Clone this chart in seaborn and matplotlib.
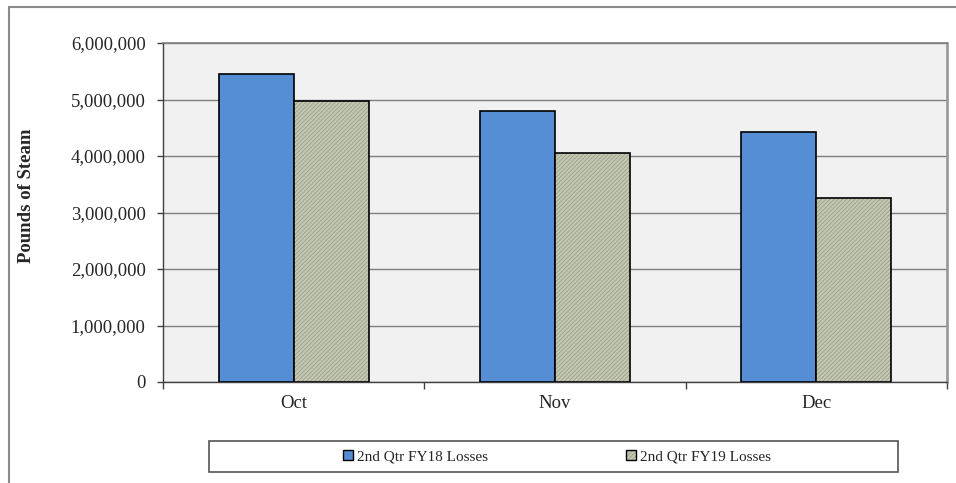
import matplotlib
matplotlib.use("Agg")
import matplotlib.pyplot as plt
from matplotlib.patches import Rectangle
from matplotlib.lines import Line2D
from matplotlib.colors import to_rgba
from matplotlib.ticker import FuncFormatter, FixedLocator
import seaborn as sns
import pandas as pd

# Steam losses by month, second quarter
months = ["Oct", "Nov", "Dec"]
series_names = ["2nd Qtr FY18 Losses", "2nd Qtr FY19 Losses"]
fy18_losses = [5455000, 4800000, 4420000]
fy19_losses = [4970000, 4055000, 3265000]
y_ticks = [0, 1000000, 2000000, 3000000, 4000000, 5000000, 6000000]

df = pd.DataFrame({
    "Month": months * 2,
    "Pounds": fy18_losses + fy19_losses,
    "Series": [series_names[0]] * 3 + [series_names[1]] * 3,
})

sns.set_theme(style="white")
plt.rcParams["font.family"] = ["Liberation Serif", "DejaVu Serif"]
plt.rcParams["hatch.linewidth"] = 0.6

blue = "#558ed5"
olive = "#c5c9b3"
hatch_col = "#979d87"
fine_hatch = "/" * 8


def texture(patch):
    """Fine olive diagonal texture with a light hatch colour."""
    patch.set_hatch(fine_hatch)
    if hasattr(patch, "set_hatchcolor"):
        patch.set_hatchcolor(hatch_col)
    patch._hatch_color = to_rgba(hatch_col)
    patch.stale = True


fig = plt.figure(figsize=(9.56, 4.83), dpi=100)
fig.patch.set_facecolor("white")
ax = fig.add_axes([163 / 956, 1 - 382 / 483, (947 - 163) / 956, (382 - 43) / 483])
ax.set_facecolor("#f1f1f1")

sns.barplot(data=df, x="Month", y="Pounds", hue="Series", order=months,
            hue_order=series_names, palette=[blue, olive], width=0.575,
            edgecolor="black", linewidth=1.2, saturation=1, ax=ax,
            legend=False, zorder=3)

for patch in ax.patches[3:6]:
    texture(patch)

ax.set_ylim(0, 6000000)
ax.set_xlim(-0.5, 2.5)
ax.yaxis.set_major_locator(FixedLocator(y_ticks))
ax.yaxis.set_major_formatter(FuncFormatter(lambda v, p: f"{v:,.0f}"))
ax.yaxis.grid(True, color="#7f7f7f", linewidth=1.0, zorder=0)
ax.set_axisbelow(True)

ax.set_xlabel("")
ax.set_ylabel("Pounds of Steam", fontsize=13.5, fontweight="bold", labelpad=12)
ax.yaxis.set_label_coords(-0.163, 0.55)

ax.tick_params(axis="y", which="major", direction="out", length=4.5, width=1,
               color="#404040", pad=8, labelsize=13.5, left=True)
ax.tick_params(axis="x", which="major", length=0, pad=9, labelsize=13.5)
ax.set_xticks([-0.5, 0.5, 1.5, 2.5], minor=True)
ax.tick_params(axis="x", which="minor", direction="out", length=5, width=1,
               color="#404040", bottom=True)

for side in ["left", "bottom"]:
    ax.spines[side].set_color("#404040")
    ax.spines[side].set_linewidth(1.0)
ax.spines["top"].set_color("#7f7f7f")
ax.spines["top"].set_linewidth(1.2)
ax.spines["right"].set_color("#9a9a9a")
ax.spines["right"].set_linewidth(2.0)
for side in ax.spines:
    ax.spines[side].set_visible(True)

# legend with its own box
lx0, lx1, ly0, ly1 = 209, 898, 441, 472
fig.patches.append(Rectangle((lx0 / 956, 1 - ly1 / 483), (lx1 - lx0) / 956,
                             (ly1 - ly0) / 483, transform=fig.transFigure,
                             facecolor="white", edgecolor="#555555",
                             linewidth=1.2, zorder=1))
handles = [Rectangle((0, 0), 1, 1, facecolor=blue, edgecolor="black", linewidth=1.0),
           Rectangle((0, 0), 1, 1, facecolor=olive, edgecolor="black", linewidth=1.0)]
leg = fig.legend(handles, series_names, loc="center",
                 bbox_to_anchor=(557 / 956, 1 - 456.5 / 483), ncol=2, frameon=False,
                 fontsize=11, handlelength=0.65, handleheight=0.65,
                 handletextpad=0.3, columnspacing=9.0)
texture(leg.legend_handles[1])

# outer chart frame (top and left edges)
fig.lines.append(Line2D([9 / 956, 1.0], [1 - 6.5 / 483, 1 - 6.5 / 483],
                        transform=fig.transFigure, color="#8a8a8a", linewidth=1.5))
fig.lines.append(Line2D([9 / 956, 9 / 956], [0, 1 - 6.5 / 483],
                        transform=fig.transFigure, color="#8a8a8a", linewidth=1.5))

fig.savefig("out.png", dpi=100)
